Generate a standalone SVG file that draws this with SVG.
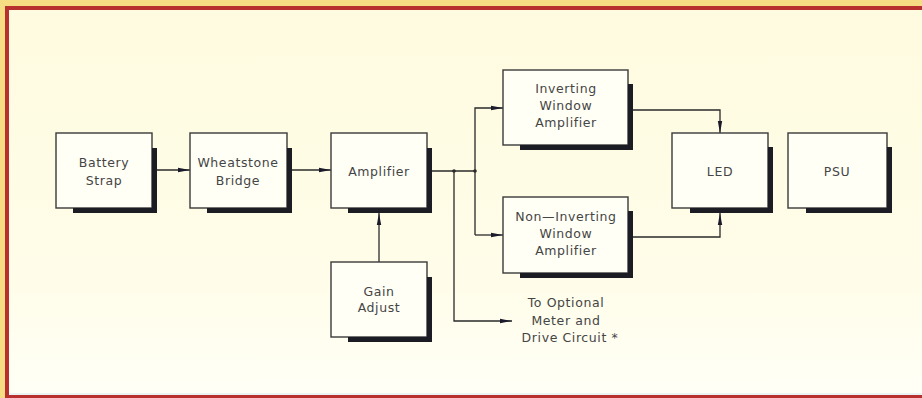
<svg xmlns="http://www.w3.org/2000/svg" width="922" height="398" viewBox="0 0 922 398">
<defs>
<style>
.box{fill:#fffff6;stroke:#3a3a3a;stroke-width:1.4}
.sh{fill:#1c1c24}
.ln{fill:none;stroke:#2a2a2a;stroke-width:1.3}
.t{font-family:"DejaVu Sans","Liberation Sans",sans-serif;font-size:12.5px;fill:#454545;text-anchor:middle;letter-spacing:0.6px}
</style>
<linearGradient id="bg" x1="0" y1="0" x2="0" y2="1">
<stop offset="0" stop-color="#fffbe0"/>
<stop offset="0.7" stop-color="#fffde9"/>
<stop offset="1" stop-color="#fffff6"/>
</linearGradient>
<marker id="ah" viewBox="0 0 12 6" refX="12" refY="3" markerWidth="12" markerHeight="6" markerUnits="userSpaceOnUse" orient="auto">
<path d="M0,0.8 L12,3 L0,5.2 Z" fill="#1a1a2a"/>
</marker>
</defs>
<rect x="0" y="0" width="922" height="398" fill="#f6dc82"/>
<rect x="5" y="6" width="917" height="392" fill="#b8302e"/>
<rect x="9" y="10" width="913" height="385" fill="url(#bg)"/>
<line x1="9" y1="394" x2="922" y2="394" stroke="#d6ecf0" stroke-width="1.2"/>
<g id="connectors">
<line class="ln" x1="157" y1="170" x2="190" y2="170" marker-end="url(#ah)"/>
<line class="ln" x1="292" y1="170" x2="331" y2="170" marker-end="url(#ah)"/>
<line class="ln" x1="432" y1="171" x2="475" y2="171"/>
<circle cx="454" cy="171" r="1.8" fill="#2a2a2a"/>
<circle cx="475" cy="171" r="1.8" fill="#2a2a2a"/>
<polyline class="ln" points="475,235 475,108 503,108" marker-end="url(#ah)"/>
<line class="ln" x1="475" y1="235" x2="503" y2="235" marker-end="url(#ah)"/>
<polyline class="ln" points="454,171 454,321 512,321" marker-end="url(#ah)"/>
<line class="ln" x1="379" y1="262" x2="379" y2="213" marker-end="url(#ah)"/>
<polyline class="ln" points="633,110 720,110 720,133" marker-end="url(#ah)"/>
<polyline class="ln" points="633,237 720,237 720,213" marker-end="url(#ah)"/>
</g>
<g id="battery-strap">
<rect class="box" x="56" y="133" width="96" height="75"/>
<path class="sh" d="M152,148 H157 V213 H73 V208 H152 Z"/>
<text class="t" x="104" y="167">Battery</text>
<text class="t" x="104" y="185">Strap</text>
</g>
<g id="wheatstone-bridge">
<rect class="box" x="190" y="133" width="97" height="75"/>
<path class="sh" d="M287,148 H292 V213 H207 V208 H287 Z"/>
<text class="t" x="238" y="167">Wheatstone</text>
<text class="t" x="238" y="185">Bridge</text>
</g>
<g id="amplifier">
<rect class="box" x="331" y="133" width="96" height="75"/>
<path class="sh" d="M427,148 H432 V213 H348 V208 H427 Z"/>
<text class="t" x="379" y="176">Amplifier</text>
</g>
<g id="gain-adjust">
<rect class="box" x="331" y="262" width="96" height="75"/>
<path class="sh" d="M427,277 H432 V342 H348 V337 H427 Z"/>
<text class="t" x="379" y="296">Gain</text>
<text class="t" x="379" y="312">Adjust</text>
</g>
<g id="inverting-window-amplifier">
<rect class="box" x="503" y="70" width="125" height="75"/>
<path class="sh" d="M628,84 H633 V150 H520 V145 H628 Z"/>
<text class="t" x="566" y="93">Inverting</text>
<text class="t" x="566" y="110">Window</text>
<text class="t" x="566" y="127">Amplifier</text>
</g>
<g id="non-inverting-window-amplifier">
<rect class="box" x="503" y="197" width="125" height="76"/>
<path class="sh" d="M628,211 H633 V278 H520 V273 H628 Z"/>
<text class="t" x="566" y="221">Non—Inverting</text>
<text class="t" x="566" y="238">Window</text>
<text class="t" x="566" y="255">Amplifier</text>
</g>
<g id="led">
<rect class="box" x="672" y="133" width="96" height="75"/>
<path class="sh" d="M768,147 H773 V213 H690 V208 H768 Z"/>
<text class="t" x="720" y="176">LED</text>
</g>
<g id="psu">
<rect class="box" x="788" y="133" width="99" height="75"/>
<path class="sh" d="M887,147 H892 V213 H806 V208 H887 Z"/>
<text class="t" x="837" y="176">PSU</text>
</g>
<g id="optional-label">
<text class="t" x="566" y="307">To  Optional</text>
<text class="t" x="566" y="325">Meter  and</text>
<text class="t" x="570" y="342">Drive  Circuit  *</text>
</g>
</svg>
